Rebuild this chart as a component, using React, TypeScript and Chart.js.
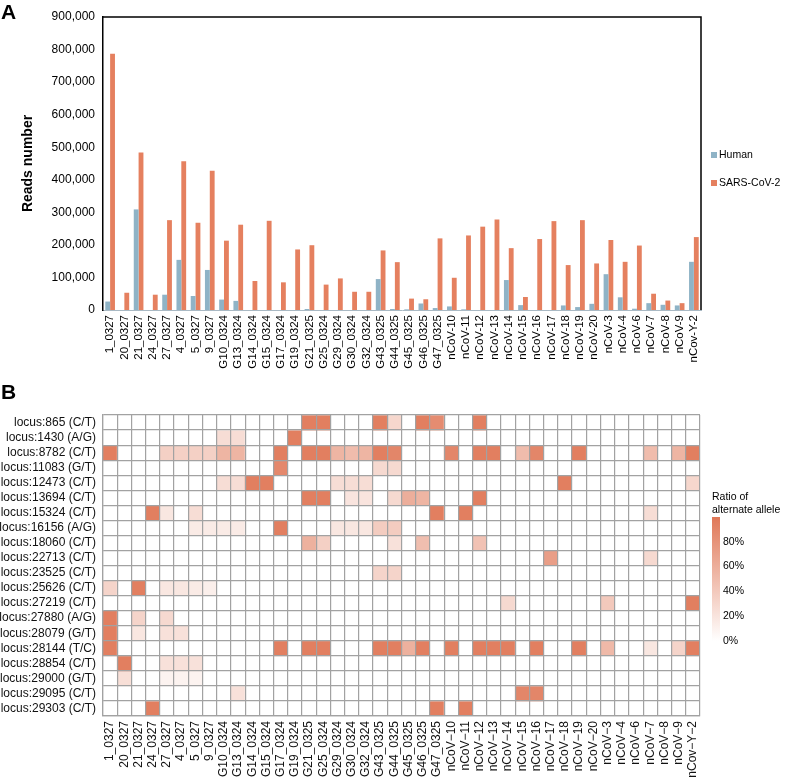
import React, { useEffect, useRef } from 'react';
import { Chart, registerables } from 'chart.js';

Chart.register(...registerables);

const FONT = '"Liberation Sans", Arial, Helvetica, sans-serif';

const barLabels = [
  '1_0327', '20_0327', '21_0327', '24_0327', '27_0327', '4_0327', '5_0327', '9_0327',
  'G10_0324', 'G13_0324', 'G14_0324', 'G15_0324', 'G17_0324', 'G19_0324', 'G21_0325',
  'G25_0324', 'G29_0324', 'G30_0324', 'G32_0324', 'G43_0325', 'G44_0325', 'G45_0325',
  'G46_0325', 'G47_0325', 'nCoV-10', 'nCoV-11', 'nCoV-12', 'nCoV-13', 'nCoV-14', 'nCoV-15',
  'nCoV-16', 'nCoV-17', 'nCoV-18', 'nCoV-19', 'nCoV-20', 'nCoV-3', 'nCoV-4', 'nCoV-6',
  'nCoV-7', 'nCoV-8', 'nCoV-9', 'nCov-Y-2',
];

const heatLabels = [
  '1_0327', '20_0327', '21_0327', '24_0327', '27_0327', '4_0327', '5_0327', '9_0327',
  'G10_0324', 'G13_0324', 'G14_0324', 'G15_0324', 'G17_0324', 'G19_0324', 'G21_0325',
  'G25_0324', 'G29_0324', 'G30_0324', 'G32_0324', 'G43_0325', 'G44_0325', 'G45_0325',
  'G46_0325', 'G47_0325', 'nCoV\u221210', 'nCoV\u221211', 'nCoV\u221212', 'nCoV\u221213',
  'nCoV\u221214', 'nCoV\u221215', 'nCoV\u221216', 'nCoV\u221217', 'nCoV\u221218',
  'nCoV\u221219', 'nCoV\u221220', 'nCoV\u22123', 'nCoV\u22124', 'nCoV\u22126', 'nCoV\u22127',
  'nCoV\u22128', 'nCoV\u22129', 'nCov\u2212Y\u22122',
];

// reads (thousands)
const humanReadsK = [
  26, 0, 309, 0, 47, 154, 43, 123, 32, 28, 0, 0, 0, 0, 3, 0, 0, 0, 0, 95, 3,
  2, 20, 6, 11, 2, 0, 0, 92, 15, 0, 0, 14, 9, 19, 110, 39, 4, 21, 16, 14, 148,
];
const sarsReadsK = [
  787, 53, 484, 47, 276, 457, 268, 428, 213, 262, 89, 274, 85, 186, 199, 78, 97, 56, 56, 183, 147,
  35, 33, 220, 99, 229, 256, 278, 190, 40, 218, 273, 138, 276, 143, 215, 148, 198, 50, 29, 21, 224,
];

const yTicksMax = 900000;
const yTickStep = 100000;

const loci = [
  'locus:865 (C/T)', 'locus:1430 (A/G)', 'locus:8782 (C/T)', 'locus:11083 (G/T)',
  'locus:12473 (C/T)', 'locus:13694 (C/T)', 'locus:15324 (C/T)', 'locus:16156 (A/G)',
  'locus:18060 (C/T)', 'locus:22713 (C/T)', 'locus:23525 (C/T)', 'locus:25626 (C/T)',
  'locus:27219 (C/T)', 'locus:27880 (A/G)', 'locus:28079 (G/T)', 'locus:28144 (T/C)',
  'locus:28854 (C/T)', 'locus:29000 (G/T)', 'locus:29095 (C/T)', 'locus:29303 (C/T)',
];

// ratio of alternate allele (%), one row per locus, one value per sample
const r865 =   [0,0,0,0,0,0,0,0,0,0,0,0,0,0,95,95,0,0,0,95,30,0,95,85,0,0,95,0,0,0,0,0,0,0,0,0,0,0,0,0,0,0];
const r1430 =  [0,0,0,0,0,0,0,0,25,25,0,0,0,95,0,0,0,0,0,0,0,0,0,0,0,0,0,0,0,0,0,0,0,0,0,0,0,0,0,0,0,0];
const r8782 =  [95,0,0,0,35,35,35,35,55,55,0,0,95,0,95,95,55,50,55,95,90,0,0,0,90,0,95,95,0,50,90,0,0,95,0,0,0,0,50,0,55,95];
const r11083 = [0,0,0,0,0,0,0,0,0,0,0,0,88,0,0,0,0,0,0,28,28,0,0,0,0,0,0,0,0,0,0,0,0,0,0,0,0,0,0,0,0,0];
const r12473 = [0,0,0,0,0,0,0,0,25,25,95,95,0,0,0,0,25,25,25,0,0,0,0,0,0,0,0,0,0,0,0,0,95,0,0,0,0,0,0,0,0,30];
const r13694 = [0,0,0,0,0,0,0,0,0,0,0,0,0,0,95,95,0,20,20,0,28,60,55,0,0,0,95,0,0,0,0,0,0,0,0,0,0,0,0,0,0,0];
const r15324 = [0,0,0,95,18,0,25,0,0,0,0,0,0,0,0,0,0,0,0,0,0,0,0,95,0,95,0,0,0,0,0,0,0,0,0,0,0,0,25,0,0,0];
const r16156 = [0,0,0,0,0,0,15,15,15,15,0,0,95,0,0,0,18,18,18,38,38,0,0,0,0,0,0,0,0,0,0,0,0,0,0,0,0,0,0,0,0,0];
const r18060 = [0,0,0,0,0,0,0,0,0,0,0,0,0,0,58,35,0,0,0,0,22,0,48,0,0,0,45,0,0,0,0,0,0,0,0,0,0,0,0,0,0,0];
const r22713 = [0,0,0,0,0,0,0,0,0,0,0,0,0,0,0,0,0,0,0,0,0,0,0,0,0,0,0,0,0,0,0,72,0,0,0,0,0,0,28,0,0,0];
const r23525 = [0,0,0,0,0,0,0,0,0,0,0,0,0,0,0,0,0,0,0,32,32,0,0,0,0,0,0,0,0,0,0,0,0,0,0,0,0,0,0,0,0,0];
const r25626 = [32,0,95,0,18,18,15,12,0,0,0,0,0,0,0,0,0,0,0,0,0,0,0,0,0,0,0,0,0,0,0,0,0,0,0,0,0,0,0,0,0,0];
const r27219 = [0,0,0,0,0,0,0,0,0,0,0,0,0,0,0,0,0,0,0,0,0,0,0,0,0,0,0,0,28,0,0,0,0,0,0,40,0,0,0,0,0,95];
const r27880 = [95,0,32,0,28,0,0,0,0,0,0,0,0,0,0,0,0,0,0,0,0,0,0,0,0,0,0,0,0,0,0,0,0,0,0,0,0,0,0,0,0,0];
const r28079 = [95,0,18,0,22,22,0,0,0,0,0,0,0,0,0,0,0,0,0,0,0,0,0,0,0,0,0,0,0,0,0,0,0,0,0,0,0,0,0,0,0,0];
const r28144 = [95,0,0,0,0,0,0,0,0,0,0,0,95,0,95,95,0,0,0,95,95,58,95,0,95,0,95,95,95,0,95,0,0,95,0,52,0,0,18,0,32,95];
const r28854 = [0,95,0,0,22,22,22,0,0,0,0,0,0,0,0,0,0,0,0,0,0,0,0,0,0,0,0,0,0,0,0,0,0,0,0,0,0,0,0,0,0,0];
const r29000 = [0,24,0,0,9,9,9,0,0,0,0,0,0,0,0,0,0,0,0,0,0,0,0,0,0,0,0,0,0,0,0,0,0,0,0,0,0,0,0,0,0,0];
const r29095 = [0,0,0,0,0,0,0,0,0,22,0,0,0,0,0,0,0,0,0,0,0,0,0,0,0,0,0,0,0,90,90,0,0,0,0,0,0,0,0,0,0,0];
const r29303 = [0,0,0,95,0,0,0,0,0,0,0,0,0,0,0,0,0,0,0,0,0,0,0,95,0,95,0,0,0,0,0,0,0,0,0,0,0,0,0,0,0,0];

const ratioRows = [
  r865, r1430, r8782, r11083, r12473, r13694, r15324, r16156, r18060, r22713,
  r23525, r25626, r27219, r27880, r28079, r28144, r28854, r29000, r29095, r29303,
];

const legendTicks = [80, 60, 40, 20, 0];

const HUMAN = '#8fb3c6';
const SARS = '#e5805f';
const HI = [224, 120, 88];
const GRID = '#a2a2a2';

function heatColor(p: number): string {
  const t = Math.max(0, Math.min(1, p / 100));
  const r = Math.round(255 + (HI[0] - 255) * t);
  const g = Math.round(255 + (HI[1] - 255) * t);
  const b = Math.round(255 + (HI[2] - 255) * t);
  return `rgb(${r},${g},${b})`;
}

const panelLetter = (letter: string, x: number, y: number) => ({
  id: 'panelLetter' + letter,
  afterDraw(chart: any) {
    const ctx = chart.ctx;
    ctx.save();
    ctx.fillStyle = '#000';
    ctx.font = `bold 21px ${FONT}`;
    ctx.textBaseline = 'alphabetic';
    ctx.fillText(letter, x, y);
    ctx.restore();
  },
});

const framePlugin = {
  id: 'frame',
  afterDraw(chart: any) {
    const { ctx, chartArea } = chart;
    ctx.save();
    ctx.strokeStyle = '#000';
    ctx.lineWidth = 1.5;
    ctx.beginPath();
    ctx.moveTo(chartArea.left, chartArea.top);
    ctx.lineTo(chartArea.right, chartArea.top);
    ctx.lineTo(chartArea.right, chartArea.bottom);
    ctx.stroke();
    ctx.restore();
  },
};

const barLegendPlugin = {
  id: 'barLegend',
  afterDraw(chart: any) {
    const { ctx, chartArea } = chart;
    ctx.save();
    ctx.font = `10.5px ${FONT}`;
    ctx.textBaseline = 'middle';
    const x0 = chartArea.right + 10;
    const ys = [155, 183];
    chart.data.datasets.forEach((ds: any, i: number) => {
      ctx.fillStyle = ds.backgroundColor;
      ctx.fillRect(x0, ys[i] - 3, 6, 6);
      ctx.fillStyle = '#000';
      ctx.fillText(ds.label, x0 + 8, ys[i] + 0.5);
    });
    ctx.restore();
  },
};

const heatLegendPlugin = {
  id: 'heatLegend',
  afterDraw(chart: any) {
    const { ctx, chartArea } = chart;
    ctx.save();
    const x0 = chartArea.right + 12;
    const top = 137;
    const span = 124;
    ctx.fillStyle = '#000';
    ctx.font = `10.5px ${FONT}`;
    ctx.textBaseline = 'middle';
    ctx.fillText('Ratio of', x0, 117);
    ctx.fillText('alternate allele', x0, 130);
    const grad = ctx.createLinearGradient(0, top, 0, top + span);
    grad.addColorStop(0, heatColor(100));
    grad.addColorStop(1, heatColor(0));
    ctx.fillStyle = grad;
    ctx.fillRect(x0, top, 8, span + 6);
    ctx.fillStyle = '#000';
    legendTicks.forEach((v) => {
      const y = top + span * (1 - v / 100);
      ctx.fillText(`${v}%`, x0 + 11, y);
    });
    ctx.restore();
  },
};

export default function App() {
  const barRef = useRef<HTMLCanvasElement | null>(null);
  const heatRef = useRef<HTMLCanvasElement | null>(null);

  useEffect(() => {
    Chart.defaults.font.family = FONT;
    const barChart = new Chart(barRef.current as HTMLCanvasElement, {
      type: 'bar',
      data: {
        labels: barLabels,
        datasets: [
          {
            label: 'Human',
            data: humanReadsK.map((v) => v * 1000),
            backgroundColor: HUMAN,
            categoryPercentage: 0.68,
            barPercentage: 1,
          },
          {
            label: 'SARS-CoV-2',
            data: sarsReadsK.map((v) => v * 1000),
            backgroundColor: SARS,
            categoryPercentage: 0.68,
            barPercentage: 1,
          },
        ],
      },
      options: {
        animation: false,
        responsive: false,
        layout: { padding: { top: 17, right: 86, left: 0, bottom: 0 } },
        plugins: { legend: { display: false }, tooltip: { enabled: false } },
        scales: {
          x: {
            grid: { display: false, drawTicks: false },
            border: { color: '#a9b9c4', width: 1 },
            ticks: {
              autoSkip: false,
              maxRotation: 90,
              minRotation: 90,
              padding: 5,
              color: '#000',
              font: { size: 11.5, family: FONT },
            },
            afterFit: (s: any) => { s.height = 70; },
          },
          y: {
            min: 0,
            max: yTicksMax,
            grid: { display: false, drawTicks: false },
            border: { color: '#000', width: 1.5 },
            ticks: {
              stepSize: yTickStep,
              padding: 8,
              color: '#000',
              font: { size: 12, family: FONT },
              callback: (v: any) => Number(v).toLocaleString('en-US'),
            },
            title: {
              display: true,
              text: 'Reads number',
              color: '#000',
              font: { size: 14, weight: 'bold', family: FONT },
              padding: { top: 20, bottom: 0 },
            },
            afterFit: (s: any) => { s.width = 103; },
          },
        },
      },
      plugins: [framePlugin, barLegendPlugin, panelLetter('A', 1, 19)],
    } as any);

    const heatChart = new Chart(heatRef.current as HTMLCanvasElement, {
      type: 'bar',
      data: {
        labels: heatLabels,
        datasets: loci.map((locus, r) => ({
          label: locus,
          data: heatLabels.map(() => 1),
          backgroundColor: ratioRows[r].map(heatColor),
          borderWidth: 0,
          barPercentage: 1,
          categoryPercentage: 1,
          stack: 'cells',
        })),
      },
      options: {
        animation: false,
        responsive: false,
        layout: { padding: { top: 35, right: 87, left: 0, bottom: 0 } },
        plugins: { legend: { display: false }, tooltip: { enabled: false } },
        scales: {
          x: {
            stacked: true,
            offset: true,
            grid: { offset: true, color: GRID, lineWidth: 1.2, drawTicks: false, z: 1 },
            border: { color: GRID, width: 1.2, z: 1 },
            ticks: {
              autoSkip: false,
              maxRotation: 90,
              minRotation: 90,
              padding: 5,
              color: '#111',
              font: { size: 12, family: FONT },
            },
            afterFit: (s: any) => { s.height = 61; },
          },
          y: {
            stacked: true,
            reverse: true,
            min: 0,
            max: loci.length,
            grid: { color: GRID, lineWidth: 1.2, drawTicks: false, z: 1 },
            border: { color: GRID, width: 1.2, z: 1 },
            afterBuildTicks: (s: any) => {
              s.ticks = Array.from({ length: loci.length + 1 }, (_, i) => ({ value: i }));
            },
            ticks: {
              autoSkip: false,
              labelOffset: 7.5,
              padding: 7,
              color: '#111',
              font: { size: 12, family: FONT },
              callback: (v: any) => loci[Number(v)] ?? '',
            },
            afterFit: (s: any) => { s.width = 103; },
          },
        },
      },
      plugins: [heatLegendPlugin, panelLetter('B', 1, 19)],
    } as any);

    return () => {
      barChart.destroy();
      heatChart.destroy();
    };
  }, []);

  return (
    <div style={{ position: 'fixed', left: 0, top: 0, width: 787, height: 777, background: '#fff', overflow: 'hidden' }}>
      <canvas ref={barRef} width={787} height={380} style={{ position: 'absolute', left: 0, top: 0 }} />
      <canvas ref={heatRef} width={787} height={397} style={{ position: 'absolute', left: 0, top: 380 }} />
    </div>
  );
}
